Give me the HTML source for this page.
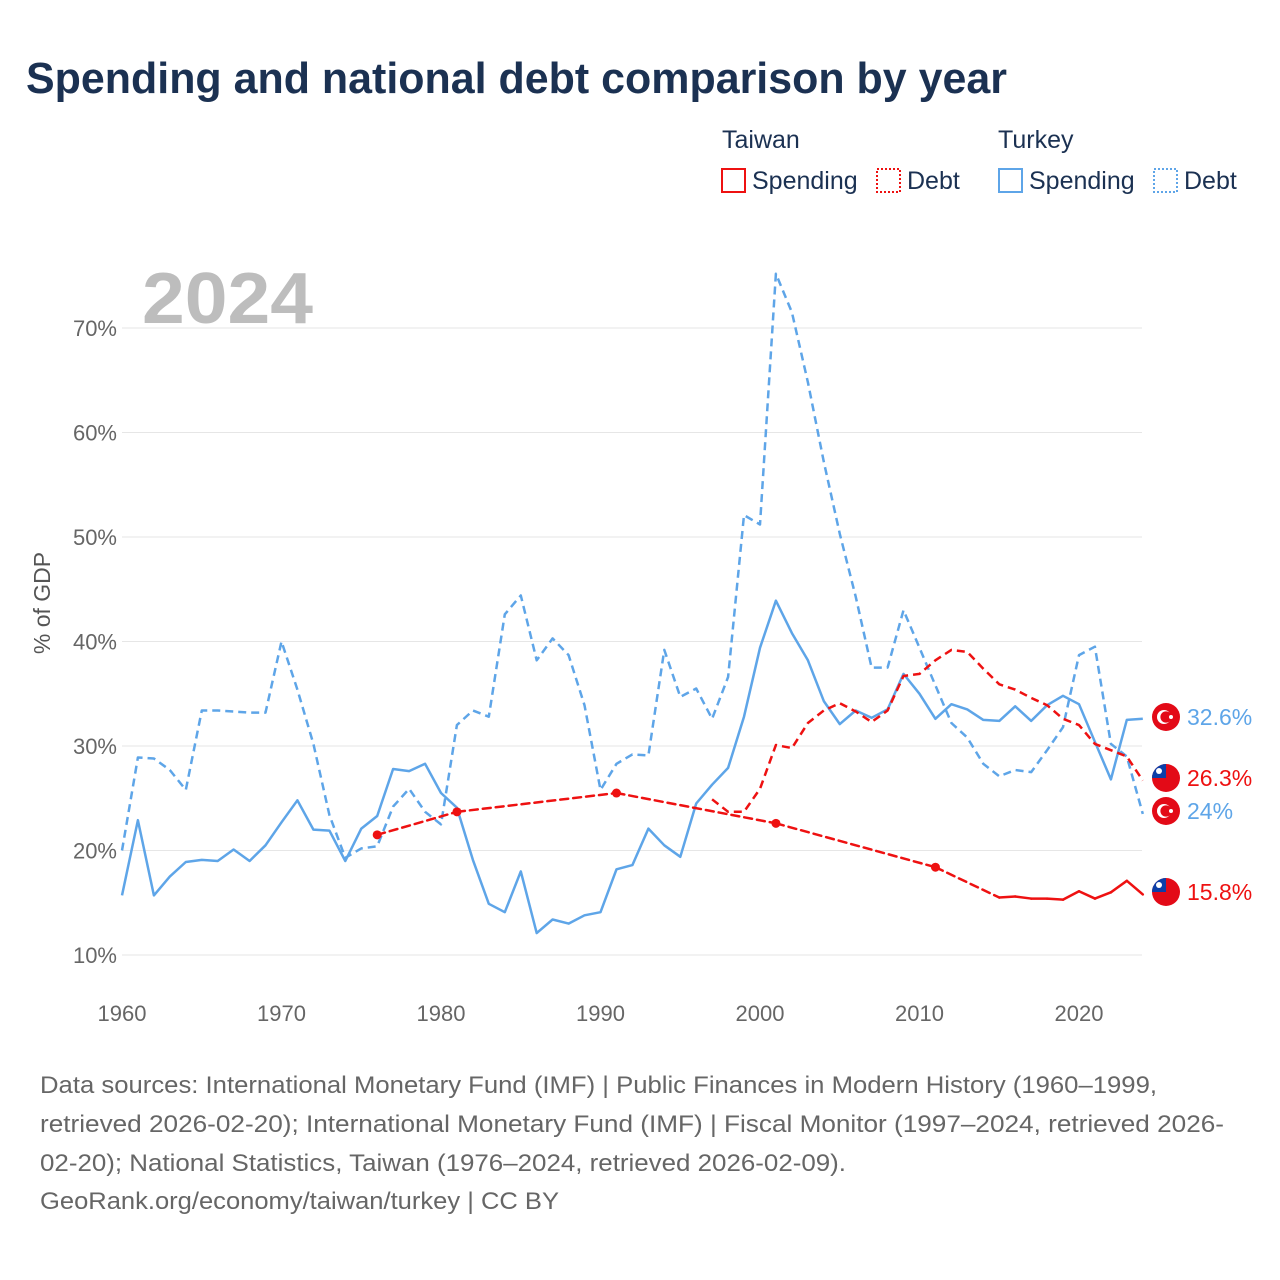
<!DOCTYPE html>
<html><head><meta charset="utf-8">
<style>
body{margin:0;background:#fff;width:1280px;height:1280px;overflow:hidden;font-family:"Liberation Sans",sans-serif;}
svg{position:absolute;left:0;top:0}
</style></head>
<body>
<svg id="chart" width="1280" height="1280">
<text x="26" y="93" font-size="44" font-weight="bold" fill="#1b3152" textLength="981" lengthAdjust="spacingAndGlyphs">Spending and national debt comparison by year</text>
<g font-size="25" fill="#1b3152">
<text x="722" y="148">Taiwan</text>
<text x="998" y="148">Turkey</text>
<g><rect x="722" y="169" width="23" height="23" fill="none" stroke="#ee1111" stroke-width="2"/><text x="752" y="189">Spending</text></g>
<g><rect x="877" y="169" width="23" height="23" fill="none" stroke="#ee1111" stroke-width="2" stroke-dasharray="2 2"/><text x="907" y="189">Debt</text></g>
<g><rect x="999" y="169" width="23" height="23" fill="none" stroke="#5ea5e8" stroke-width="2"/><text x="1029" y="189">Spending</text></g>
<g><rect x="1154" y="169" width="23" height="23" fill="none" stroke="#5ea5e8" stroke-width="2" stroke-dasharray="2 2"/><text x="1184" y="189">Debt</text></g>
</g>
<text x="142" y="323" font-size="72" font-weight="bold" fill="#bdbdbd" textLength="171" lengthAdjust="spacingAndGlyphs">2024</text>
<text transform="translate(50,603) rotate(-90)" text-anchor="middle" font-size="23" fill="#555">% of GDP</text>
<g id="grid"></g><g id="series"></g><g id="labels"></g>
<g font-size="24.5" fill="#666" lengthAdjust="spacingAndGlyphs">
<text x="40" y="1093" textLength="1117" lengthAdjust="spacingAndGlyphs">Data sources: International Monetary Fund (IMF) | Public Finances in Modern History (1960–1999,</text>
<text x="40" y="1132" textLength="1184" lengthAdjust="spacingAndGlyphs">retrieved 2026-02-20); International Monetary Fund (IMF) | Fiscal Monitor (1997–2024, retrieved 2026-</text>
<text x="40" y="1171" textLength="806" lengthAdjust="spacingAndGlyphs">02-20); National Statistics, Taiwan (1976–2024, retrieved 2026-02-09).</text>
<text x="40" y="1209" textLength="519" lengthAdjust="spacingAndGlyphs">GeoRank.org/economy/taiwan/turkey | CC BY</text>
</g>
</svg>
<script>
const yTicks=[10,20,30,40,50,60,70];
const xTicks=[1960,1970,1980,1990,2000,2010,2020];
const turkeySpendYears=[];for(let y=1960;y<=2024;y++)turkeySpendYears.push(y);
const turkeySpending=[15.7,22.9,15.7,17.5,18.9,19.1,19.0,20.1,19.0,20.5,22.7,24.8,22.0,21.9,19.0,22.1,23.3,27.8,27.6,28.3,25.5,24.1,19.1,14.9,14.1,18.0,12.1,13.4,13.0,13.8,14.1,18.2,18.6,22.1,20.5,19.4,24.5,26.3,27.9,32.8,39.4,43.9,40.8,38.2,34.3,32.1,33.4,32.7,33.5,36.9,35.0,32.6,34.0,33.5,32.5,32.4,33.8,32.4,33.9,34.8,34.0,30.4,26.8,32.5,32.6];
const turkeyDebt=[20.0,28.9,28.8,27.7,25.8,33.4,33.4,33.3,33.2,33.2,40.0,35.4,30.2,23.4,19.3,20.2,20.4,24.2,25.9,23.7,22.5,32.0,33.4,32.8,42.6,44.4,38.2,40.3,38.7,33.9,25.8,28.3,29.2,29.1,39.2,34.7,35.5,32.6,36.6,52.1,51.2,75.2,71.5,64.8,57.2,50.3,44.3,37.5,37.5,43.0,39.4,35.8,32.2,30.8,28.3,27.1,27.7,27.5,29.6,31.8,38.7,39.5,30.2,29.0,23.5];
const taiwanSpendYears=[1976,1981,1991,2001,2011,2015,2016,2017,2018,2019,2020,2021,2022,2023,2024];
const taiwanSpending=[21.5,23.7,25.5,22.6,18.4,15.5,15.6,15.4,15.4,15.3,16.1,15.4,16.0,17.1,15.8];
const taiwanDebtYears=[];for(let y=1997;y<=2024;y++)taiwanDebtYears.push(y);
const taiwanDebt=[24.9,23.7,23.7,25.9,30.1,29.8,32.2,33.4,34.1,33.3,32.3,33.4,36.7,36.9,38.2,39.2,39.0,37.4,35.9,35.4,34.6,33.9,32.6,32.0,30.2,29.6,29.0,26.7];
const endLabels=["32.6%","26.3%","24%","15.8%"];

const NS="http://www.w3.org/2000/svg";
const X=yr=>122+(yr-1960)*15.95;
const Y=v=>955-(v-10)*10.45;
function mk(tag,attrs,parent){const e=document.createElementNS(NS,tag);for(const k in attrs)e.setAttribute(k,attrs[k]);parent.appendChild(e);return e;}
const grid=document.getElementById('grid'),ser=document.getElementById('series'),lab=document.getElementById('labels');
yTicks.forEach(t=>{
 const l=mk('line',{x1:122,x2:1142,y1:Y(t),y2:Y(t),stroke:'#e6e6e6','stroke-width':1},grid);
 
 
 const tx=mk('text',{x:117,y:Y(t)+8,'text-anchor':'end','font-size':22,fill:'#666'},grid);
 tx.textContent=t+'%';
 
 
});
xTicks.forEach(t=>{
 const tx=mk('text',{x:X(t),y:1021,'text-anchor':'middle','font-size':22,fill:'#666'},grid);
 tx.textContent=t;
 
 
});
function path(years,vals,color,dash,name){
 const d=years.map((y,i)=>(i?'L':'M')+X(y).toFixed(1)+','+Y(vals[i]).toFixed(1)).join('');
 const p=mk('path',{d:d,fill:'none',stroke:color,'stroke-width':2.5,'stroke-linejoin':'round'},ser);
 if(dash)p.setAttribute('stroke-dasharray',dash);
 
 
}
path(turkeySpendYears,turkeyDebt,'#5ea5e8','8 5','turkey-debt-line');
path(turkeySpendYears,turkeySpending,'#5ea5e8',null,'turkey-spending-line');
path(taiwanDebtYears,taiwanDebt,'#ee1111','8 5','taiwan-debt-line');
for(let i=1;i<taiwanSpendYears.length;i++){
 const gap=taiwanSpendYears[i]-taiwanSpendYears[i-1]>1;
 const l=mk('line',{x1:X(taiwanSpendYears[i-1]),y1:Y(taiwanSpending[i-1]),x2:X(taiwanSpendYears[i]),y2:Y(taiwanSpending[i]),stroke:'#ee1111','stroke-width':2.5,'stroke-linecap':'round'},ser);
 if(gap)l.setAttribute('stroke-dasharray','8 5');
 
 
}
taiwanSpendYears.forEach((y,i)=>{
 const prev=i>0&&y-taiwanSpendYears[i-1]===1,next=i<taiwanSpendYears.length-1&&taiwanSpendYears[i+1]-y===1;
 if(!prev&&!next){const c=mk('circle',{cx:X(y),cy:Y(taiwanSpending[i]),r:4.5,fill:'#ee1111'},ser);
 
 }
});
const last=a=>a[a.length-1];
const ends=[
 {v:last(turkeySpending),c:'#5ea5e8',f:'tr',y:717},
 {v:last(taiwanDebt),c:'#ee1111',f:'tw',y:778},
 {v:last(turkeyDebt),c:'#5ea5e8',f:'tr',y:811},
 {v:last(taiwanSpending),c:'#ee1111',f:'tw',y:892}];
ends.forEach((e,i)=>{
 const g=mk('g',{},lab);
 
 
 const cx=1166,cy=e.y;
 mk('circle',{cx:cx,cy:cy,r:14,fill:'#e30a17'},g);
 if(e.f==='tr'){
  mk('circle',{cx:cx-2,cy:cy,r:7,fill:'#fff'},g);
  mk('circle',{cx:cx,cy:cy,r:5.6,fill:'#e30a17'},g);
  mk('circle',{cx:cx+5,cy:cy,r:2,fill:'#fff'},g);
 }else{
  mk('path',{d:`M${cx-14},${cy} A14,14 0 0 1 ${cx},${cy-14} L${cx},${cy} Z`,fill:'#0c3fa8'},g);
  mk('circle',{cx:cx-7,cy:cy-7,r:3,fill:'#fff'},g);
 }
 const t=mk('text',{x:1187,y:cy+8,'font-size':23,fill:e.c},g);
 t.textContent=endLabels[i];
});
</script>
</body></html>
